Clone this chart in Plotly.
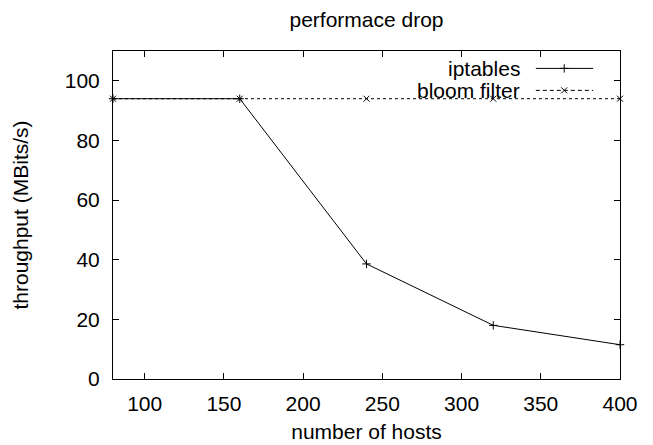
import plotly.graph_objects as go

hosts = [80, 160, 240, 320, 400]
iptables = [94.0, 94.0, 38.6, 18.0, 11.5]
bloom = [94.0, 94.0, 94.0, 94.0, 94.0]
y_ticks = [0, 20, 40, 60, 80, 100]
x_ticks = [100, 150, 200, 250, 300, 350, 400]
legend_names = ["iptables", "bloom filter"]

FONT = "Liberation Sans"
FS = 21

# the page body has an 8px margin, so the figure is 8px smaller and margins shifted
W, H, OFF = 653, 445, 8

fig = go.Figure()
fig.add_trace(go.Scatter(
    x=hosts, y=iptables, mode="lines+markers", name=legend_names[0],
    line=dict(color="black", width=1),
    marker=dict(symbol="cross-thin", size=6, line=dict(color="black", width=1)),
    showlegend=False, cliponaxis=False))
fig.add_trace(go.Scatter(
    x=hosts, y=bloom, mode="lines+markers", name=legend_names[1],
    line=dict(color="black", width=1, dash="3px,3px"),
    marker=dict(symbol="x-thin", size=6, line=dict(color="black", width=1)),
    showlegend=False, cliponaxis=False))

# custom gnuplot-style legend (text left, sample right), on hidden overlay axes
leg_rows = [0.947, 0.880]
styles = [("solid", "cross-thin"), ("4px,3px", "x-thin")]
for name, yy, (dash, sym) in zip(legend_names, leg_rows, styles):
    fig.add_trace(go.Scatter(
        x=[0.834, 0.947], y=[yy, yy], xaxis="x2", yaxis="y2", mode="lines",
        line=dict(color="black", width=1, dash=dash), showlegend=False, hoverinfo="skip"))
    fig.add_trace(go.Scatter(
        x=[0.89], y=[yy], xaxis="x2", yaxis="y2", mode="markers",
        marker=dict(symbol=sym, size=6, line=dict(color="black", width=1)),
        showlegend=False, hoverinfo="skip"))
    fig.add_annotation(x=0.806, y=yy, xref="x2", yref="y2", text=name,
                       showarrow=False, xanchor="right", yanchor="middle",
                       font=dict(family=FONT, size=FS, color="black"))

axis_common = dict(showline=True, linecolor="black", linewidth=1, mirror="ticks",
                   ticks="inside", ticklen=6, tickcolor="black", tickwidth=1,
                   showgrid=False, zeroline=False, automargin=False,
                   tickfont=dict(family=FONT, size=FS, color="black"))

fig.update_layout(
    width=W - OFF, height=H - OFF,
    margin=dict(l=113 - OFF, r=33, t=51 - OFF, b=66, autoexpand=False),
    paper_bgcolor="white", plot_bgcolor="white",
    font=dict(family=FONT, size=FS, color="black"),
    title=dict(text="performace drop", x=0.5, xref="paper", y=1 - (20 - OFF) / (H - OFF),
               yref="container", yanchor="middle", xanchor="center",
               font=dict(family=FONT, size=FS, color="black")),
    xaxis=dict(range=[80, 400], tickvals=x_ticks, ticklabelstandoff=6,
               title=dict(text="number of hosts", standoff=10,
                          font=dict(family=FONT, size=FS)),
               **axis_common),
    yaxis=dict(range=[0, 110], tickvals=y_ticks, ticklabelstandoff=8,
               title=dict(text="throughput (MBits/s)", standoff=30,
                          font=dict(family=FONT, size=FS)),
               **axis_common),
    xaxis2=dict(range=[0, 1], overlaying="x", visible=False),
    yaxis2=dict(range=[0, 1], overlaying="y", visible=False),
)

fig.write_html("out.html")
